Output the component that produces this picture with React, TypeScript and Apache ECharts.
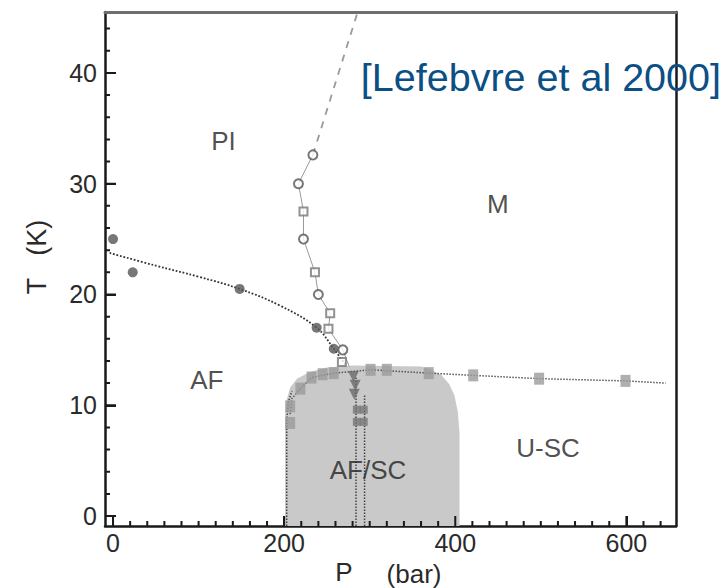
import React, { useEffect, useRef } from "react";
import * as echarts from "echarts";

// ---- axis ticks / labels ----
const xMin = -9.4;
const xMax = 658;
const yMin = -0.9;
const yMax = 45.5;
const xTickLabels = [0, 200, 400, 600];
const yTickLabels = [0, 10, 20, 30, 40];
const xMinorTicks = [20, 40, 60, 80, 100, 120, 140, 160, 180, 220, 240, 260, 280, 300, 320, 340, 360, 380, 420, 440, 460, 480, 500, 520, 540, 560, 580, 620, 640];
const yMinorTicks = [2, 4, 6, 8, 12, 14, 16, 18, 22, 24, 26, 28, 32, 34, 36, 38, 42, 44];

// ---- data (P in bar, T in K) ----
const afFilledDots = [[0, 25.0], [23, 22.0], [148, 20.5], [238, 17.0], [258, 15.1]];
const afFitLine = [[-4, 23.75], [50, 22.6], [100, 21.6], [148, 20.5], [195, 19.0], [238, 17.0], [258, 15.1], [272, 13.6]];
const piOpenCircles = [[233.6, 32.6], [216.7, 30.0], [222.6, 25.0], [240, 20.0], [268.6, 15.0]];
const piOpenSquares = [[222.6, 27.5], [236, 22.0], [253.8, 18.3], [251.8, 16.9], [267.5, 13.9]];
const piLinkLine = [[233.6, 32.6], [216.7, 30.0], [222.6, 27.5], [222.6, 25.0], [236, 22.0], [240, 20.0], [253.8, 18.3], [251.8, 16.9], [268.6, 15.0], [276, 13.5]];
const piDashedLine = [[233.6, 32.6], [292, 47.0]];
const scSquares = [[207, 9.9], [207, 8.4], [219, 11.5], [232, 12.5], [245, 12.8], [258, 12.9], [301, 13.2], [320, 13.2], [369, 12.9], [421, 12.7], [498, 12.4], [599, 12.2]];
const scFitLine = [[207, 9.2], [209, 10.6], [219, 11.5], [232, 12.5], [258, 12.9], [301, 13.2], [369, 12.9], [421, 12.7], [498, 12.4], [599, 12.2], [646, 12.0]];
const afscTriangles = [[281, 12.6], [283, 11.8], [282, 11.0]];
const afscSquares = [[285, 9.6], [285, 8.5], [293, 9.6], [293, 8.5]];
const scDome = [[201, -0.9], [201, 9.0], [203, 10.5], [207, 11.6], [215, 12.4], [230, 13.0], [250, 13.4], [280, 13.6], [360, 13.5], [372, 13.2], [384, 12.7], [393, 11.9], [399, 10.9], [403, 9.4], [405, 7.5], [405, -0.9]];
const dottedLeft = [[203, -0.9], [203, 8.6], [205, 10.3], [209, 11.3]];
const dottedMid1 = [[284, -0.9], [284, 12.5]];
const dottedMid2 = [[294, -0.9], [294, 11.0]];

const regionNames = ["PI", "M", "AF", "AF/SC", "U-SC"];
const regionAnchors = [[129, 33.9], [449.7, 28.2], [109.6, 12.25], [298, 4.15], [508.5, 6.1]];

const FONT = "'Liberation Sans', Arial, Helvetica, sans-serif";
const INK = "#1a1a1a";

export default function App() {
  const ref = useRef<HTMLDivElement>(null);

  useEffect(() => {
    if (!ref.current) return;
    const chart = echarts.init(ref.current, null, { renderer: "svg" });

    const baseX = { type: "value", min: xMin, max: xMax, splitLine: { show: false } };
    const baseY = { type: "value", min: yMin, max: yMax, splitLine: { show: false } };

    const lineSeries = (data: any[], color: string, type: any, width: number, z = 3, smooth: any = false) => ({
      type: "line",
      data,
      showSymbol: false,
      symbol: "none",
      smooth,
      connectNulls: false,
      lineStyle: { color, type, width },
      silent: true,
      z,
    });

    const pxPerX = (722 - 105 - 46) / (xMax - xMin);
    const pxPerY = (588 - 12 - 62) / (yMax - yMin);
    const tickPath = (values: number[], onX: boolean, len: number) => {
      const out: any[] = [];
      values.forEach((v) => {
        if (onX) out.push([v, yMin], [v, yMin + len / pxPerY]);
        else out.push([xMin, v], [xMin + len / pxPerX, v]);
        out.push("-");
      });
      return out;
    };

    const option: any = {
      animation: false,
      backgroundColor: "#ffffff",
      grid: { left: 105, right: 46, top: 12, bottom: 62, outerBoundsMode: "none", containLabel: false },
      xAxis: [
        {
          ...baseX,
          position: "bottom",
          axisLine: { show: true, onZero: false, lineStyle: { color: INK, width: 2.5 } },
          axisTick: { show: true, inside: true, length: 10, customValues: xTickLabels, lineStyle: { color: INK, width: 2 } },
          axisLabel: { show: true, customValues: xTickLabels, margin: 4, fontSize: 25, color: "#2a2a2a", fontFamily: FONT },
        },
        {
          ...baseX,
          position: "top",
          axisLine: { show: true, onZero: false, lineStyle: { color: "#6e6e6e", width: 3 } },
          axisTick: { show: false },
          axisLabel: { show: false },
        },
      ],
      yAxis: [
        {
          ...baseY,
          position: "left",
          axisLine: { show: true, onZero: false, lineStyle: { color: INK, width: 2.5 } },
          axisTick: { show: true, inside: true, length: 11, customValues: yTickLabels, lineStyle: { color: INK, width: 2 } },
          axisLabel: { show: true, customValues: yTickLabels, margin: 8, fontSize: 25, color: "#2a2a2a", fontFamily: FONT },
        },
        {
          ...baseY,
          position: "right",
          axisLine: { show: true, onZero: false, lineStyle: { color: INK, width: 2.5 } },
          axisTick: { show: false },
          axisLabel: { show: false },
        },
      ],
      series: [
        {
          type: "line",
          data: scDome,
          showSymbol: false,
          symbol: "none",
          lineStyle: { width: 0, color: "#c9c9c9" },
          areaStyle: { color: "#c9c9c9", opacity: 1, origin: "start" },
          silent: true,
          z: 1,
        },
        lineSeries(dottedLeft, "#444", "dotted", 1.5, 2),
        lineSeries(dottedMid1, "#444", "dotted", 1.5, 2),
        lineSeries(dottedMid2, "#444", "dotted", 1.5, 2),
        lineSeries(afFitLine, "#333", "dotted", 1.8, 2, 0.4),
        lineSeries(piLinkLine, "#999", "solid", 1, 2),
        lineSeries(piDashedLine, "#9a9a9a", [7, 7], 1.8, 2),
        lineSeries(scFitLine, "#555", "dotted", 1.5, 2),
        lineSeries(tickPath(xTickLabels, true, 10), INK, "solid", 2, 9),
        lineSeries(tickPath(xMinorTicks, true, 5), INK, "solid", 2, 9),
        lineSeries(tickPath(yTickLabels, false, 11), INK, "solid", 2, 9),
        lineSeries(tickPath(yMinorTicks, false, 5), INK, "solid", 2, 9),
        {
          type: "scatter",
          data: scSquares,
          symbol: "rect",
          symbolSize: [10, 12],
          itemStyle: { color: "#9b9b9b" },
          z: 4,
        },
        {
          type: "scatter",
          data: afscTriangles,
          symbol: "triangle",
          symbolRotate: 180,
          symbolSize: 11,
          itemStyle: { color: "#6a6a6a" },
          z: 5,
        },
        {
          type: "scatter",
          data: afscSquares,
          symbol: "rect",
          symbolSize: 8,
          itemStyle: { color: "#777" },
          z: 5,
        },
        {
          type: "scatter",
          data: afFilledDots,
          symbol: "circle",
          symbolSize: 10,
          itemStyle: { color: "#555" },
          z: 5,
        },
        {
          type: "scatter",
          data: piOpenCircles,
          symbol: "emptyCircle",
          symbolSize: 9,
          itemStyle: { color: "#555", borderWidth: 1.6 },
          z: 5,
        },
        {
          type: "scatter",
          data: piOpenSquares,
          symbol: "emptyRect",
          symbolSize: 8,
          itemStyle: { color: "#777", borderWidth: 1.2 },
          z: 5,
        },
        {
          type: "scatter",
          data: regionNames.map((n, i) => ({ name: n, value: regionAnchors[i] })),
          symbolSize: 0,
          silent: true,
          label: {
            show: true,
            position: "inside",
            formatter: "{b}",
            fontSize: 26,
            color: "#222",
            fontFamily: FONT,
          },
          z: 6,
        },
      ],
      graphic: [
        {
          type: "text",
          x: 37,
          y: 257,
          rotation: Math.PI / 2,
          style: { text: "T   (K)", fontSize: 27, fill: "#2a2a2a", fontFamily: FONT, align: "center", verticalAlign: "middle" },
        },
        {
          type: "text",
          x: 344,
          y: 572,
          style: { text: "P", fontSize: 26, fill: "#2a2a2a", fontFamily: FONT, align: "center", verticalAlign: "middle" },
        },
        {
          type: "text",
          x: 414,
          y: 574,
          style: { text: "(bar)", fontSize: 26, fill: "#2a2a2a", fontFamily: FONT, align: "center", verticalAlign: "middle" },
        },
        {
          type: "text",
          x: 721,
          y: 77,
          z: 10,
          style: { text: "[Lefebvre et al 2000]", fontSize: 39.5, fill: "#0b4f85", fontFamily: FONT, align: "right", verticalAlign: "middle" },
        },
      ],
    };

    chart.setOption(option);
    return () => chart.dispose();
  }, []);

  return <div ref={ref} style={{ position: "fixed", left: 0, top: 0, width: 722, height: 588 }} />;
}
